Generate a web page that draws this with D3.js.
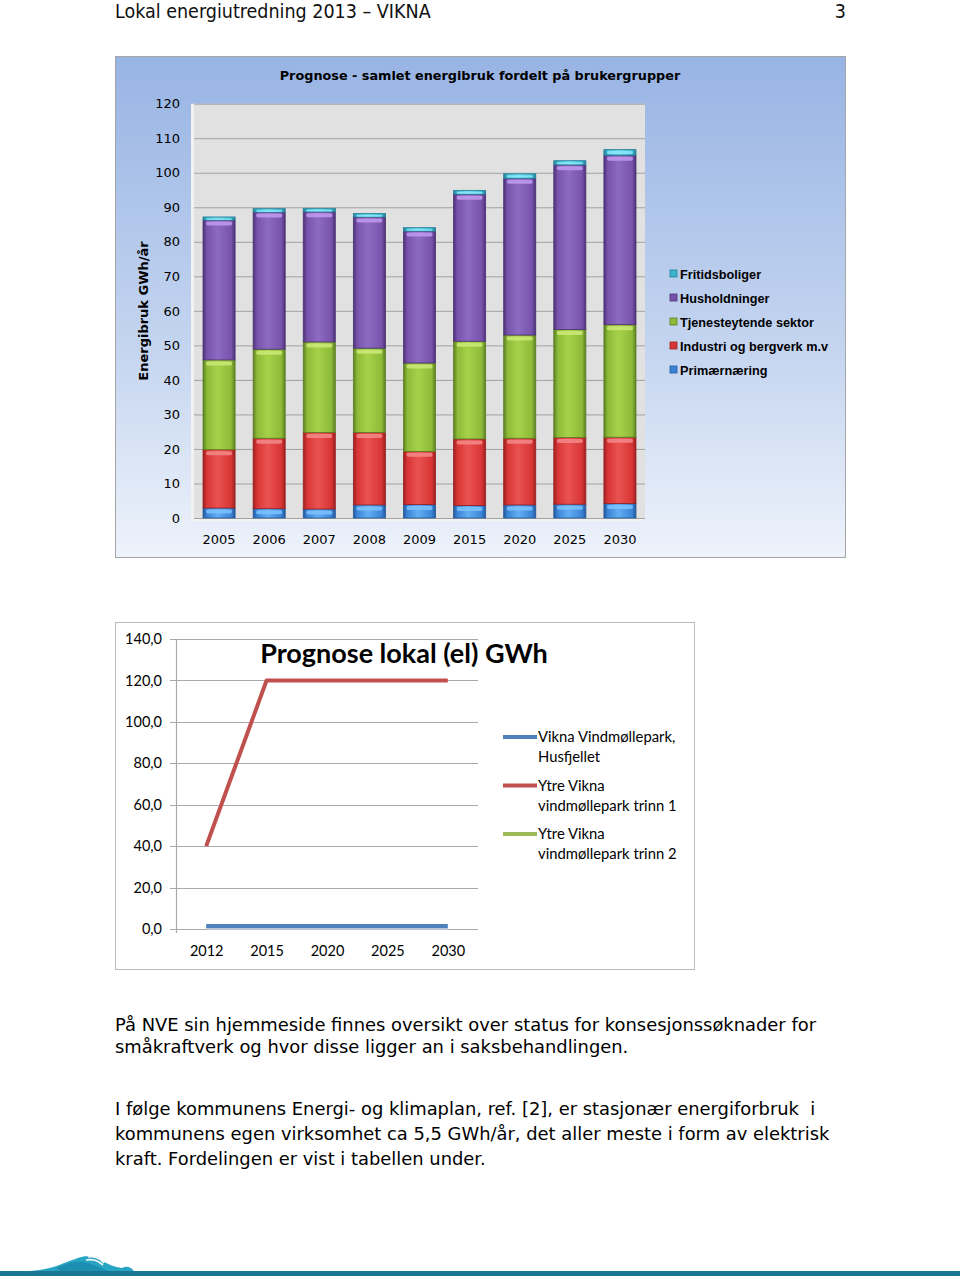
<!DOCTYPE html>
<html><head><meta charset="utf-8">
<script src="https://cdn.jsdelivr.net/npm/d3@7"></script>
<style>
html,body{margin:0;padding:0;background:#fff;}
svg{display:block;}
</style></head>
<body>
<svg id="page" width="960" height="1279"></svg>
<script>
// ---------- Data: chart 1 ----------
const years1 = ["2005","2006","2007","2008","2009","2015","2020","2025","2030"];
const primaer  = [2.9, 2.7, 2.6, 3.8, 3.9, 3.6, 3.8, 4.0, 4.2];
const industri = [16.9, 20.4, 22.2, 21.0, 15.4, 19.3, 19.3, 19.3, 19.2];
const tjeneste = [26.0, 25.8, 26.2, 24.4, 25.6, 28.3, 29.9, 31.3, 32.6];
const hushold  = [40.5, 39.7, 37.7, 38.0, 38.2, 42.6, 45.4, 47.7, 49.1];
const fritid   = [0.9, 1.0, 1.0, 1.0, 1.0, 1.1, 1.3, 1.2, 1.6];
const seriesNames1 = ["Primærnæring","Industri og bergverk m.v","Tjenesteytende sektor","Husholdninger","Fritidsboliger"];
const yTicks1 = [0,10,20,30,40,50,60,70,80,90,100,110,120];

// ---------- Data: chart 2 ----------
const years2 = ["2012","2015","2020","2025","2030"];
const husfjellet = [1.5, 1.5, 1.5, 1.5, 1.5];
const trinn1 = [40.0, 120.0, 120.0, 120.0, 120.0];
const trinn2 = [null, null, null, null, null];
const seriesNames2 = ["Vikna Vindmøllepark, Husfjellet","Ytre Vikna vindmøllepark trinn 1","Ytre Vikna vindmøllepark trinn 2"];
const yTicks2 = [0,20,40,60,80,100,120,140];

const svg = d3.select("#page");
const defs = svg.append("defs");

// ---------- Header ----------
svg.append("text").attr("x",115).attr("y",18)
  .style("font-family","'DejaVu Sans Condensed','DejaVu Sans'").style("font-size","19.5px").attr("fill","#111")
  .text("Lokal energiutredning 2013 – VIKNA");
svg.append("text").attr("x",846).attr("y",18).attr("text-anchor","end")
  .style("font-family","'DejaVu Sans Condensed','DejaVu Sans'").style("font-size","19.5px").attr("fill","#111")
  .text("3");

// ================= CHART 1 =================
const bg1 = defs.append("linearGradient").attr("id","bg1").attr("x1",0).attr("y1",0).attr("x2",0).attr("y2",1);
bg1.append("stop").attr("offset","0%").attr("stop-color","#98b4e4");
bg1.append("stop").attr("offset","60%").attr("stop-color","#c6d6f0");
bg1.append("stop").attr("offset","100%").attr("stop-color","#eef3fb");

svg.append("rect").attr("x",115.5).attr("y",56.5).attr("width",730).attr("height",501)
  .attr("fill","url(#bg1)").attr("stroke","#a6a6a6");

svg.append("text").attr("x",480).attr("y",80).attr("text-anchor","middle")
  .style("font-family","'DejaVu Sans',Verdana").style("font-weight","bold").style("font-size","12.8px")
  .attr("fill","#000").text("Prognose - samlet energibruk fordelt på brukergrupper");

const p1 = {x0:194, x1:645, y0:518, y1:103.7};
const x1 = d3.scaleBand().domain(years1).range([p1.x0,p1.x1]).paddingInner(0.36).paddingOuter(0.18);
const y1 = d3.scaleLinear().domain([0,120]).range([p1.y0,p1.y1]);

svg.append("rect").attr("x",p1.x0).attr("y",p1.y1).attr("width",p1.x1-p1.x0).attr("height",p1.y0-p1.y1)
  .attr("fill","#e1e1e1");
svg.append("rect").attr("x",p1.x0-3).attr("y",p1.y1).attr("width",3).attr("height",p1.y0-p1.y1+3)
  .attr("fill","#f2f2f2");
svg.append("rect").attr("x",p1.x0-3).attr("y",p1.y0).attr("width",p1.x1-p1.x0+3).attr("height",3)
  .attr("fill","#f2f2f2");

svg.append("g").selectAll("line").data(yTicks1).join("line")
  .attr("x1",p1.x0).attr("x2",p1.x1).attr("y1",d=>y1(d)+0.5).attr("y2",d=>y1(d)+0.5)
  .attr("stroke","#a2a2a2").attr("stroke-width",1);

const ya1 = svg.append("g").attr("transform",`translate(${p1.x0},0)`)
  .call(d3.axisLeft(y1).tickValues(yTicks1).tickSize(0).tickPadding(14).tickFormat(d3.format("d")));
ya1.select(".domain").remove();
ya1.selectAll("text").style("font-family","'DejaVu Sans',Verdana").style("font-size","13px").attr("fill","#000");

const xa1 = svg.append("g").attr("transform",`translate(0,${p1.y0})`)
  .call(d3.axisBottom(x1).tickSize(0).tickPadding(17));
xa1.select(".domain").remove();
xa1.selectAll("text").style("font-family","'DejaVu Sans',Verdana").style("font-size","13px").attr("fill","#000");

svg.append("text").attr("transform","translate(148,311) rotate(-90)").attr("text-anchor","middle")
  .style("font-family","'DejaVu Sans',Verdana").style("font-weight","bold").style("font-size","13px")
  .attr("fill","#000").text("Energibruk GWh/år");

const pal = [
  {base:"#3b84d6", light:"#62aef2", dark:"#24589a", hi:"#7cc2ff"},
  {base:"#d83535", light:"#ea5252", dark:"#9a2020", hi:"#f48a8a"},
  {base:"#8dba38", light:"#a6d24a", dark:"#5c7e22", hi:"#cde978"},
  {base:"#7853ab", light:"#8d6bc2", dark:"#4c3176", hi:"#c29bf0"},
  {base:"#3cb6cf", light:"#6cd8ec", dark:"#247f95", hi:"#8ce8f8"}
];
pal.forEach((c,i)=>{
  const g = defs.append("linearGradient").attr("id","bar"+i).attr("x1",0).attr("y1",0).attr("x2",1).attr("y2",0);
  g.append("stop").attr("offset","0%").attr("stop-color",c.dark);
  g.append("stop").attr("offset","12%").attr("stop-color",c.base);
  g.append("stop").attr("offset","45%").attr("stop-color",c.light);
  g.append("stop").attr("offset","88%").attr("stop-color",c.base);
  g.append("stop").attr("offset","100%").attr("stop-color",c.dark);
});

const table1 = years1.map((yr,i)=>({year:yr, s0:primaer[i], s1:industri[i], s2:tjeneste[i], s3:hushold[i], s4:fritid[i]}));
const stacked = d3.stack().keys(["s0","s1","s2","s3","s4"])(table1);

const barsG = svg.append("g");
stacked.forEach((layer,li)=>{
  const g = barsG.append("g");
  g.selectAll("rect.seg").data(layer).join("rect").attr("class","seg")
    .attr("x",d=>x1(d.data.year)).attr("width",x1.bandwidth())
    .attr("y",d=>y1(d[1])).attr("height",d=>y1(d[0])-y1(d[1]))
    .attr("fill",`url(#bar${li})`).attr("stroke",pal[li].dark).attr("stroke-width",0.8);
  g.selectAll("rect.hi").data(layer).join("rect").attr("class","hi")
    .attr("x",d=>x1(d.data.year)+3).attr("width",x1.bandwidth()-6)
    .attr("y",d=>y1(d[1])+1.5).attr("height",d=>Math.min(4,(y1(d[0])-y1(d[1]))/2))
    .attr("rx",2).attr("fill",pal[li].hi).attr("opacity",0.85);
});

const leg1Order = [4,3,2,1,0];
const leg1 = svg.append("g");
leg1Order.forEach((si,k)=>{
  const yy = 274 + k*24;
  leg1.append("rect").attr("x",670).attr("y",yy-4).attr("width",7).attr("height",7)
    .attr("fill",pal[si].base).attr("stroke",pal[si].dark).attr("stroke-width",0.8);
  leg1.append("text").attr("x",680).attr("y",yy+4.5)
    .style("font-family","'Liberation Sans',Arial").style("font-weight","bold").style("font-size","12.7px")
    .attr("fill","#000").text(seriesNames1[si]);
});

// ================= CHART 2 =================
svg.append("rect").attr("x",115.5).attr("y",622.5).attr("width",579).attr("height",347)
  .attr("fill","#fff").attr("stroke","#bdbdbd");

const p2 = {x0:176, x1:478, y0:929, y1:639};
const x2 = d3.scalePoint().domain(years2).range([p2.x0,p2.x1]).padding(0.5);
const y2 = d3.scaleLinear().domain([0,140]).range([p2.y0,p2.y1]);

svg.append("g").selectAll("line").data(yTicks2).join("line")
  .attr("x1",p2.x0-6).attr("x2",p2.x1).attr("y1",d=>Math.round(y2(d))+0.5).attr("y2",d=>Math.round(y2(d))+0.5)
  .attr("stroke","#a9a9a9").attr("stroke-width",1.2);
svg.append("line").attr("x1",p2.x0+0.5).attr("x2",p2.x0+0.5).attr("y1",p2.y1).attr("y2",p2.y0+4)
  .attr("stroke","#a9a9a9").attr("stroke-width",1.2);

const ya2 = svg.append("g").attr("transform",`translate(${p2.x0},0)`)
  .call(d3.axisLeft(y2).tickValues(yTicks2).tickSize(0).tickPadding(14)
    .tickFormat(d=>d3.format(".1f")(d).replace(".",",")));
ya2.select(".domain").remove();
ya2.selectAll("text").style("font-family","Lato,'Open Sans',sans-serif").style("font-size","14.5px").attr("fill","#000");

const xa2 = svg.append("g").attr("transform",`translate(0,${p2.y0})`)
  .call(d3.axisBottom(x2).tickSize(0).tickPadding(17));
xa2.select(".domain").remove();
xa2.selectAll("text").style("font-family","Lato,'Open Sans',sans-serif").style("font-size","14.5px").attr("fill","#000");

svg.append("text").attr("x",404).attr("y",663).attr("text-anchor","middle")
  .style("font-family","Lato,'Open Sans',sans-serif").style("font-weight","bold").style("font-size","27px")
  .attr("fill","#000").text("Prognose lokal (el) GWh");

const colors2 = ["#4f81bd","#c0504d","#9bbb59"];
const seriesData2 = [husfjellet, trinn1, trinn2];
const line2 = d3.line().defined(d=>d.v!=null).x(d=>x2(d.year)).y(d=>y2(d.v));
svg.append("path").datum(years2.map((yr,i)=>({year:yr,v:husfjellet[i]})))
  .attr("d",line2).attr("transform","translate(0,2.5)").attr("fill","none")
  .attr("stroke","#b9c6d6").attr("stroke-width",3);
[2,0,1].forEach(si=>{
  svg.append("path").datum(years2.map((yr,i)=>({year:yr,v:seriesData2[si][i]})))
    .attr("d",line2).attr("fill","none").attr("stroke",colors2[si]).attr("stroke-width",4)
    .attr("stroke-linejoin","round");
});

const leg2Lines = [["Vikna Vindmøllepark,","Husfjellet"],["Ytre Vikna","vindmøllepark trinn 1"],["Ytre Vikna","vindmøllepark trinn 2"]];
leg2Lines.forEach((lines,k)=>{
  const yy = 737 + k*48.5;
  svg.append("line").attr("x1",503).attr("x2",537).attr("y1",yy).attr("y2",yy)
    .attr("stroke",colors2[k]).attr("stroke-width",4);
  lines.forEach((t,j)=>{
    svg.append("text").attr("x",538).attr("y",yy+5+j*20)
      .style("font-family","Lato,'Open Sans',sans-serif").style("font-size","14.8px").attr("fill","#000").text(t);
  });
});

// ---------- Body text ----------
const body = [
  {t:"På NVE sin hjemmeside finnes oversikt over status for konsesjonssøknader for", y:1031},
  {t:"småkraftverk og hvor disse ligger an i saksbehandlingen.", y:1053},
  {t:"I følge kommunens Energi- og klimaplan, ref. [2], er stasjonær energiforbruk  i", y:1115},
  {t:"kommunens egen virksomhet ca 5,5 GWh/år, det aller meste i form av elektrisk", y:1140},
  {t:"kraft. Fordelingen er vist i tabellen under.", y:1165}
];
svg.append("g").selectAll("text").data(body).join("text")
  .attr("x",115).attr("y",d=>d.y)
  .style("font-family","'DejaVu Sans',Verdana").style("font-size","17.9px").style("white-space","pre")
  .attr("fill","#000").text(d=>d.t);

// ---------- Footer decoration ----------
svg.append("rect").attr("x",0).attr("y",1271).attr("width",960).attr("height",5).attr("fill","#1a7792");
svg.append("path").attr("d","M30,1271 C52,1270 65,1262 78,1258 C86,1255 92,1256 100,1260 C108,1264 114,1267 122,1268 C126,1266 130,1266 134,1271 Z").attr("fill","#27a5c2");
svg.append("path").attr("d","M56,1268 C66,1264 74,1261 84,1262 C92,1264 100,1267 108,1271 L60,1271 Z").attr("fill","#1c8fb0");
svg.append("path").attr("d","M88,1257 C93,1256 97,1257 100,1259 L104,1263 M86,1260 C92,1259 96,1260 99,1262 L103,1265").attr("fill","none").attr("stroke","#f4f7fa").attr("stroke-width",1.6);
</script>
</body></html>
